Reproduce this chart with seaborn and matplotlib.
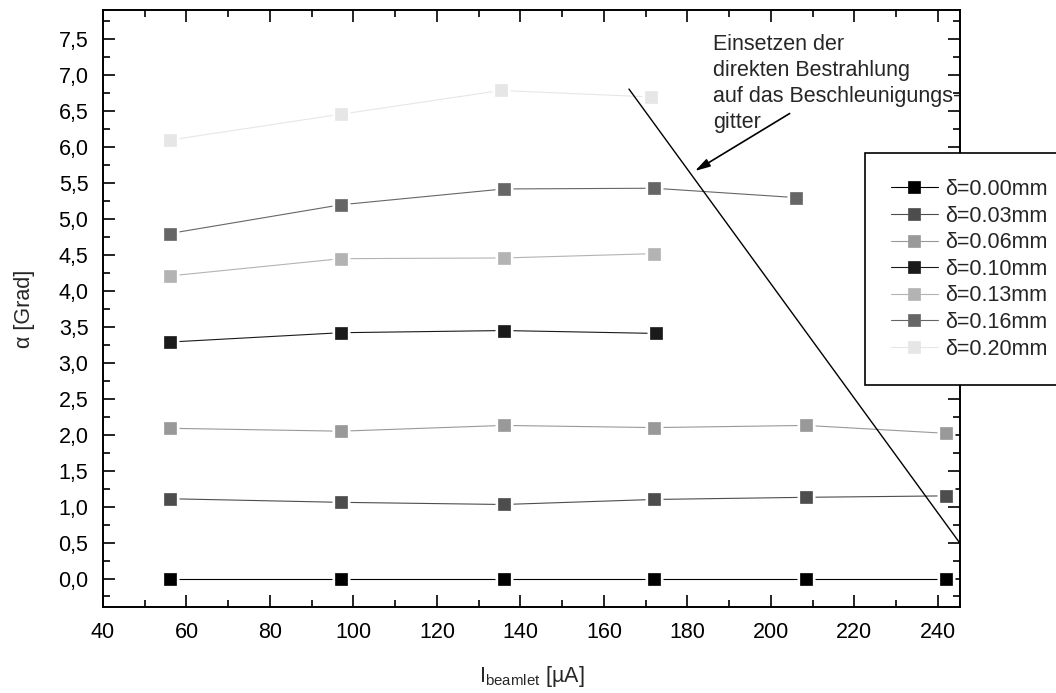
import numpy as np
import pandas as pd
import matplotlib
matplotlib.use("Agg")
import matplotlib.pyplot as plt
import seaborn as sns
from matplotlib.ticker import MultipleLocator, FuncFormatter

# Deflection angle alpha vs. beamlet current for different grid offsets delta
series_labels = ["δ=0.00mm", "δ=0.03mm", "δ=0.06mm", "δ=0.10mm",
                 "δ=0.13mm", "δ=0.16mm", "δ=0.20mm"]
series_colors = ["#000000", "#4d4d4d", "#999999", "#1a1a1a",
                 "#b3b3b3", "#666666", "#e6e6e6"]

current_000 = [56, 97, 136, 172, 208.5, 242]
alpha_000 = [0.0, 0.0, 0.0, 0.0, 0.0, 0.0]

current_003 = [56, 97, 136, 172, 208.5, 242]
alpha_003 = [1.11, 1.06, 1.03, 1.10, 1.13, 1.15]

current_006 = [56, 97, 136, 172, 208.5, 242]
alpha_006 = [2.09, 2.05, 2.13, 2.10, 2.13, 2.02]

current_010 = [56, 97, 136, 172.5]
alpha_010 = [3.29, 3.42, 3.45, 3.41]

current_013 = [56, 97, 136, 172]
alpha_013 = [4.21, 4.45, 4.46, 4.52]

current_016 = [56, 97, 136, 172, 206]
alpha_016 = [4.80, 5.20, 5.42, 5.43, 5.30]

current_020 = [56, 97, 135.3, 171.3]
alpha_020 = [6.10, 6.46, 6.79, 6.70]

currents = [current_000, current_003, current_006, current_010,
            current_013, current_016, current_020]
alphas = [alpha_000, alpha_003, alpha_006, alpha_010,
          alpha_013, alpha_016, alpha_020]

# Onset of direct irradiation of the acceleration grid (boundary line)
onset_current = [166, 245.3]
onset_alpha = [6.81, 0.49]

frames = []
for lab, xs, ys in zip(series_labels, currents, alphas):
    frames.append(pd.DataFrame({"I": xs, "alpha": ys, "series": lab}))
df = pd.concat(frames, ignore_index=True)

FS = 15.5

sns.set_style("ticks")
plt.rcParams["font.family"] = ["Liberation Sans", "DejaVu Sans"]
plt.rcParams["axes.linewidth"] = 1.4

fig = plt.figure(figsize=(10.56, 6.93), dpi=100)
ax = fig.add_axes([0.0975, 0.1237, 0.8116, 0.8619])

handles = []
for lab, col in zip(series_labels, series_colors):
    sub = df[df["series"] == lab]
    sns.lineplot(data=sub, x="I", y="alpha", ax=ax, color=col, lw=0.8,
                 marker="s", markersize=9.3, markeredgecolor=col,
                 markeredgewidth=0.5, label=lab, legend=False, zorder=2)
    handles.append(ax.lines[-1])
    # white halo so the connecting line stops short of each square
    ax.plot(sub["I"], sub["alpha"], ls="none", marker="s", ms=13.3,
            mfc="white", mec="none", zorder=3)
    ax.plot(sub["I"], sub["alpha"], ls="none", marker="s", ms=9.3,
            mfc=col, mec=col, mew=0.5, zorder=4)

ax.plot(onset_current, onset_alpha, color="black", lw=1.0, zorder=5)

ax.set_xlim(40, 245.3)
ax.set_ylim(-0.40, 7.91)
ax.xaxis.set_major_locator(MultipleLocator(20))
ax.xaxis.set_minor_locator(MultipleLocator(10))
ax.yaxis.set_major_locator(MultipleLocator(0.5))
ax.yaxis.set_minor_locator(MultipleLocator(0.25))
ax.yaxis.set_major_formatter(
    FuncFormatter(lambda v, p: f"{abs(v) if abs(v) < 1e-9 else v:.1f}".replace(".", ",")))
ax.tick_params(which="both", direction="in", top=True, right=True,
               width=1.2, labelsize=FS, colors="black")
ax.tick_params(which="major", length=8.5, pad=10.5)
ax.tick_params(which="minor", length=5)
for s in ax.spines.values():
    s.set_color("black")

ax.set_xlabel(r"I$_{\mathregular{beamlet}}$ [µA]", fontsize=FS, labelpad=15)
ax.set_ylabel("α [Grad]", fontsize=FS, labelpad=17)

ax.text(186.1, 7.57,
        "Einsetzen der\ndirekten Bestrahlung\nauf das Beschleunigungs-\ngitter",
        fontsize=FS, ha="left", va="top", linespacing=1.31, zorder=6)
ax.annotate("", xy=(181.8, 5.67), xytext=(204.5, 6.47),
            arrowprops=dict(arrowstyle="-|>,head_length=0.9,head_width=0.25",
                            color="black", lw=1.2, shrinkA=0, shrinkB=0),
            zorder=6)

leg = fig.legend(handles, series_labels, loc="upper left",
                 bbox_to_anchor=(0.819, 0.779), borderaxespad=0,
                 frameon=True, fancybox=False, framealpha=1,
                 edgecolor="black", fontsize=FS, handlelength=2.2,
                 handletextpad=0.33, labelspacing=0.26, borderpad=1.2)
leg.get_frame().set_linewidth(1.2)

fig.savefig("out.png", dpi=100)
